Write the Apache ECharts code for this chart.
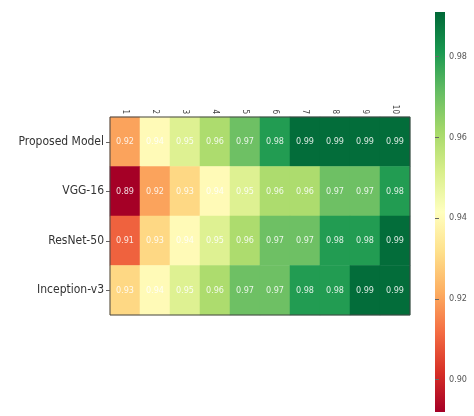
<!DOCTYPE html>
<html>
<head>
  <meta charset="UTF-8">
  <title>Accuracy Heatmap</title>
  <script src="https://cdn.jsdelivr.net/npm/echarts@6/dist/echarts.min.js"></script>
</head>
<body style="margin:0">
  <div id="heat" style="width:474px; height:416px;"></div>
  <script>
    var epochs = ['1', '2', '3', '4', '5', '6', '7', '8', '9', '10'];
    var models = ['Proposed Model', 'VGG-16', 'ResNet-50', 'Inception-v3'];
    var proposed = [0.92, 0.94, 0.95, 0.96, 0.97, 0.98, 0.99, 0.99, 0.99, 0.99];
    var vgg16 = [0.89, 0.92, 0.93, 0.94, 0.95, 0.96, 0.96, 0.97, 0.97, 0.98];
    var resnet50 = [0.91, 0.93, 0.94, 0.95, 0.96, 0.97, 0.97, 0.98, 0.98, 0.99];
    var inception = [0.93, 0.94, 0.95, 0.96, 0.97, 0.97, 0.98, 0.98, 0.99, 0.99];
    var barTicks = [0.90, 0.92, 0.94, 0.96, 0.98];
    var vmin = 0.892, vmax = 0.991;
    var rdylgn = ['#a50026', '#d73027', '#f46d43', '#fdae61', '#fee08b', '#ffffbf',
      '#d9ef8b', '#a6d96a', '#66bd63', '#1a9850', '#006837'];

    var rows = [proposed, vgg16, resnet50, inception];
    var data = [];
    rows.forEach(function (r, i) {
      r.forEach(function (v, j) { data.push([j, i, v]); });
    });

    // colorbar fill: bottom = red, top = green
    var stops = rdylgn.map(function (c, i) {
      return {offset: 1 - i / (rdylgn.length - 1), color: c};
    }).reverse();
    var barFill = new echarts.graphic.LinearGradient(0, 0, 0, 1, stops);

    var font = '"DejaVu Sans Condensed", "DejaVu Sans", sans-serif';
    var chart = echarts.init(document.getElementById('heat'), null, {renderer: 'canvas'});
    chart.setOption({
      backgroundColor: '#fff',
      animation: false,
      grid: [
        {left: 110, top: 117, width: 300, height: 198, show: true, borderColor: '#444', borderWidth: 1, z: 5},
        {left: 435, top: 12, width: 10, height: 400, show: true, backgroundColor: barFill, borderWidth: 0}
      ],
      xAxis: [
        {type: 'category', data: epochs, position: 'top', gridIndex: 0,
          axisLine: {show: false}, axisTick: {show: false},
          axisLabel: {rotate: 90, fontSize: 8, color: '#444', margin: 3, fontFamily: font},
          splitLine: {show: false}},
        {type: 'value', gridIndex: 1, show: false}
      ],
      yAxis: [
        {type: 'category', data: models, inverse: true, gridIndex: 0,
          axisLine: {show: false},
          axisTick: {show: true, length: 4, lineStyle: {color: '#666'}, alignWithLabel: true},
          axisLabel: {fontSize: 12, color: '#333', margin: 6, fontFamily: font},
          splitLine: {show: false}},
        {type: 'value', gridIndex: 1, position: 'right', min: vmin, max: vmax,
          axisLine: {show: false},
          axisTick: {show: true, length: 4, customValues: barTicks, lineStyle: {color: '#666'}},
          axisLabel: {show: true, fontSize: 9, color: '#555', margin: 4, fontFamily: font,
            customValues: barTicks,
            formatter: function (v) { return v.toFixed(2); }},
          splitLine: {show: false}}
      ],
      visualMap: {
        type: 'continuous', min: vmin, max: vmax, show: false, seriesIndex: 0,
        inRange: {color: rdylgn}
      },
      series: [{
        type: 'heatmap', xAxisIndex: 0, yAxisIndex: 0, data: data,
        label: {show: true, fontSize: 9, fontFamily: font, color: 'rgba(255,255,255,0.85)',
          formatter: function (p) { return p.value[2].toFixed(2); }},
        itemStyle: {borderWidth: 0}
      }]
    });
  </script>
</body>
</html>
